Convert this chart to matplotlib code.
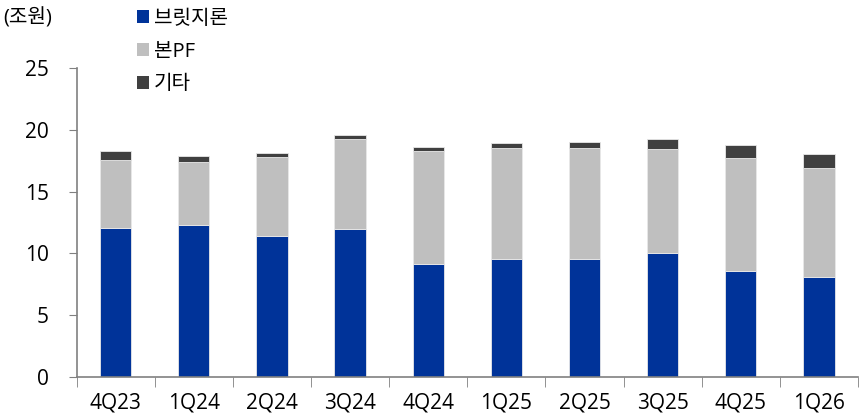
import matplotlib.pyplot as plt
import numpy as np
from matplotlib.patches import Patch

plt.rcParams["font.family"] = ["Open Sans", "Noto Sans CJK KR", "DejaVu Sans"]

quarters = ["4Q23", "1Q24", "2Q24", "3Q24", "4Q24", "1Q25", "2Q25", "3Q25", "4Q25", "1Q26"]
bridge = [12.05, 12.27, 11.41, 11.97, 9.17, 9.57, 9.52, 10.0, 8.60, 8.12]
main_pf = [5.55, 5.10, 6.39, 7.26, 9.11, 8.98, 9.03, 8.42, 9.09, 8.79]
other = [0.68, 0.51, 0.30, 0.35, 0.32, 0.41, 0.49, 0.86, 1.08, 1.11]

labels = ["브릿지론", "본PF", "기타"]
colors = ["#003399", "#BFBFBF", "#404040"]

fig = plt.figure(figsize=(8.59, 4.18), dpi=100)
ax = fig.add_axes([0.0892, 0.098, 0.9096, 0.739])

x = np.arange(len(quarters))
bottom = np.zeros(len(quarters))
for vals, c in zip([bridge, main_pf, other], colors):
    ax.bar(x, vals, width=0.4, bottom=bottom, color=c,
           edgecolor="#e8e8e8", linewidth=0.6)
    bottom += np.array(vals)

ax.set_xlim(-0.5, len(quarters) - 0.5)
ax.set_ylim(0, 25)
ax.set_yticks([0, 5, 10, 15, 20, 25])

ax.set_xticks(x)
ax.set_xticklabels(quarters)
ax.set_xticks(np.arange(-0.5, len(quarters)), minor=True)
ax.tick_params(axis="x", which="major", length=0, pad=11, labelsize=15)
ax.tick_params(axis="x", which="minor", length=7, color="#808080")
ax.tick_params(axis="y", length=6, color="#808080", pad=14, labelsize=15)

for s in ["top", "right"]:
    ax.spines[s].set_visible(False)
for s in ["left", "bottom"]:
    ax.spines[s].set_color("#808080")
    ax.spines[s].set_linewidth(1.2)

fig.text(0.004, 0.957, "(조원)", fontsize=14.5, va="center", ha="left")

handles = [Patch(facecolor=c, edgecolor="none") for c in colors]
fig.legend(handles, labels, loc="upper left", bbox_to_anchor=(0.138, 1.022),
           frameon=False, fontsize=14.5, handlelength=0.6, handleheight=0.6,
           handletextpad=0.25, labelspacing=0.63)

fig.savefig("out.png", dpi=100)
